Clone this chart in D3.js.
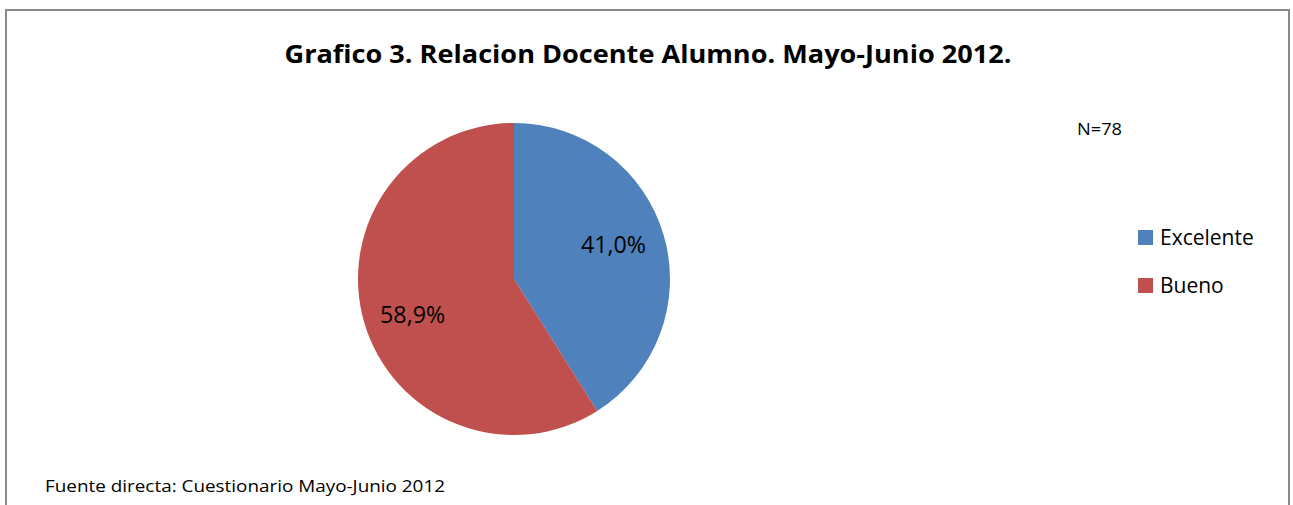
<!DOCTYPE html>
<html>
<head>
<meta charset="utf-8">
<script src="https://cdn.jsdelivr.net/npm/d3@7"></script>
<style>
  body { margin: 0; background: #fff; }
  svg { display: block; font-family: "Open Sans", "DejaVu Sans", sans-serif; }
</style>
</head>
<body>
<div id="grafico"></div>
<script>
// datos del gráfico
var categorias = ['Excelente', 'Bueno'];
var valores = [41.0, 58.9];
var colores = ['#4f81bd', '#c0504d'];
var titulo = 'Grafico 3. Relacion Docente Alumno. Mayo-Junio 2012.';
var nota = 'N=78';
var fuente = 'Fuente directa: Cuestionario Mayo-Junio 2012';

var ancho = 1293, alto = 505;
var cx = 514, cy = 279, radio = 156;

var svg = d3.select('#grafico').append('svg')
    .attr('width', ancho)
    .attr('height', alto);

// marco del gráfico
svg.append('rect')
    .attr('x', 6).attr('y', 10)
    .attr('width', 1283).attr('height', 520)
    .attr('fill', '#fff')
    .attr('stroke', '#8c8c8c')
    .attr('stroke-width', 2);

svg.append('text')
    .text(titulo)
    .attr('x', 648).attr('y', 63)
    .attr('text-anchor', 'middle')
    .attr('font-weight', 'bold')
    .attr('font-size', 25)
    .attr('textLength', 727)
    .attr('lengthAdjust', 'spacingAndGlyphs');

// pastel
var pie = d3.pie().sort(null).value(function(d) { return d; });
var arco = d3.arc().innerRadius(0).outerRadius(radio);
var arcoEtiqueta = d3.arc().innerRadius(radio * 0.67).outerRadius(radio * 0.67);
var color = d3.scaleOrdinal().domain(categorias).range(colores);

var g = svg.append('g').attr('transform', 'translate(' + cx + ',' + cy + ')');
var datos = pie(valores);

g.selectAll('path')
    .data(datos)
    .enter()
    .append('path')
    .attr('d', arco)
    .attr('fill', function(d, i) { return color(categorias[i]); });

// etiquetas de porcentaje (un poco más abajo en la mitad inferior, como Excel)
g.selectAll('text')
    .data(datos)
    .enter()
    .append('text')
    .text(function(d) { return d3.format('.1f')(d.data).replace('.', ',') + '%'; })
    .attr('transform', function(d) {
        var c = arcoEtiqueta.centroid(d);
        var medio = (d.startAngle + d.endAngle) / 2;
        return 'translate(' + (c[0] - 1) + ',' + (c[1] + 9 - 21 * Math.cos(medio)) + ')';
    })
    .attr('text-anchor', 'middle')
    .attr('font-size', 23)
    .attr('textLength', 65)
    .attr('lengthAdjust', 'spacingAndGlyphs')
    .attr('fill', '#000');

// N
svg.append('text')
    .text(nota)
    .attr('x', 1077).attr('y', 135)
    .attr('font-size', 16)
    .attr('textLength', 45)
    .attr('lengthAdjust', 'spacingAndGlyphs');

// leyenda
var leyenda = svg.selectAll('.leyenda')
    .data(categorias)
    .enter()
    .append('g')
    .attr('class', 'leyenda')
    .attr('transform', function(d, i) { return 'translate(1138,' + (230 + i * 48) + ')'; });

leyenda.append('rect')
    .attr('width', 15).attr('height', 15)
    .attr('fill', function(d) { return color(d); });

leyenda.append('text')
    .text(function(d) { return d; })
    .attr('x', 22).attr('y', 15)
    .attr('font-size', 21);

svg.append('text')
    .text(fuente)
    .attr('x', 45).attr('y', 492)
    .attr('font-size', 16)
    .attr('textLength', 400)
    .attr('lengthAdjust', 'spacingAndGlyphs');
</script>
</body>
</html>
